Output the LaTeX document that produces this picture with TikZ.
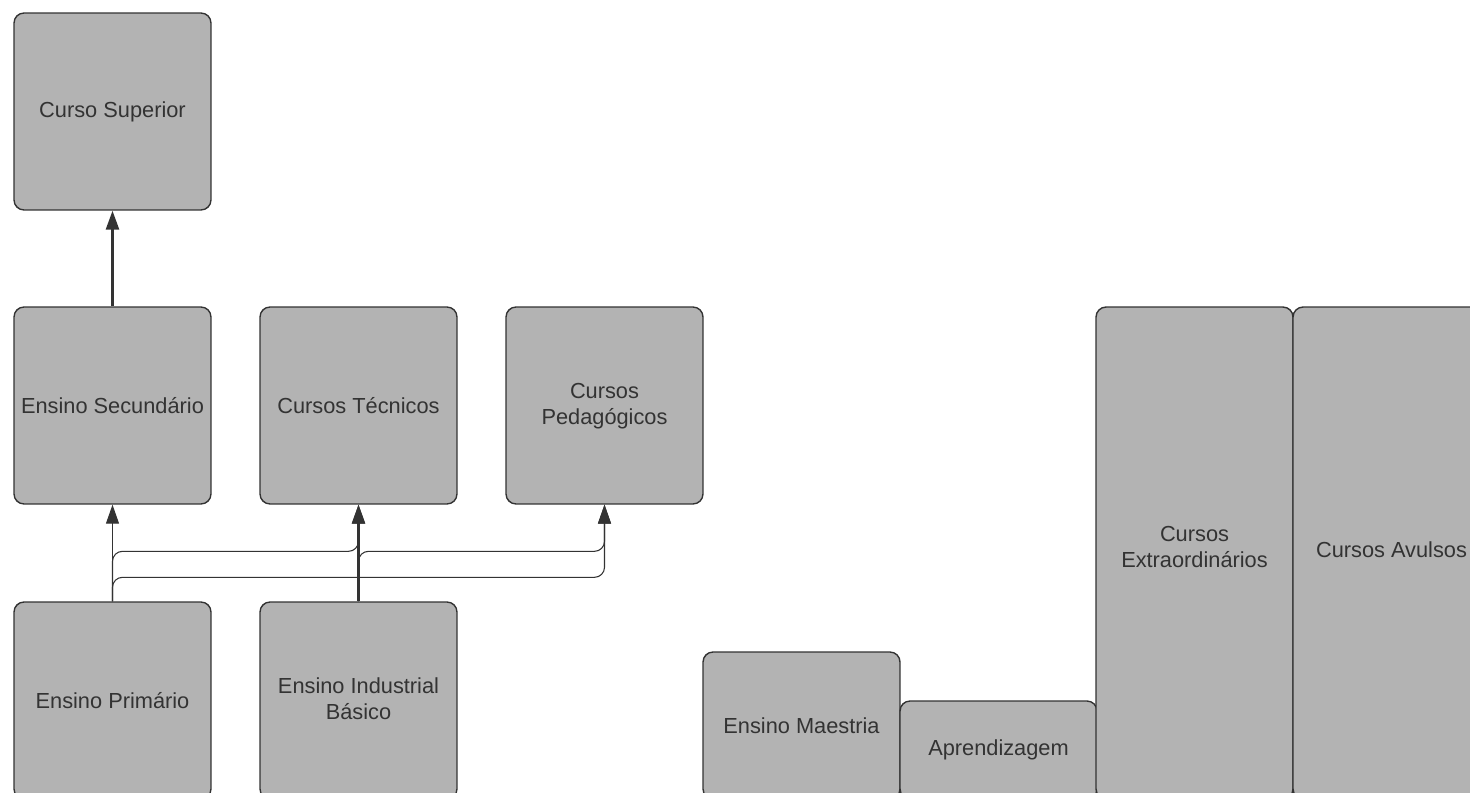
\documentclass[tikz,border=0pt]{standalone}
\usepackage{fontspec}
\setmainfont{Liberation Sans}
\usetikzlibrary{arrows.meta}
\definecolor{boxgray}{RGB}{179,179,179}
\definecolor{edgegray}{RGB}{51,51,51}
\tikzset{
 box/.style={draw=edgegray, line width=0.8pt, fill=boxgray, rounded corners=0.2cm, minimum width=3.94cm, minimum height=3.94cm, inner sep=0, text=edgegray, align=center, font=\fontsize{12.4}{14.8}\selectfont},
 link/.style={draw=edgegray, line width=0.6pt, rounded corners=0.2cm, -{Triangle[width=0.26cm,length=0.38cm]}},
 thicklink/.style={link, line width=1.5pt},
}
\begin{document}
\begin{tikzpicture}[x=0.02cm, y=-0.02cm]
\useasboundingbox (0,0) rectangle (1470,793);
\clip (0,0) rectangle (1470,793);
% upper rows
\node[box] (sup) at (112.5,111.5) {Curso Superior};
\node[box] (sec) at (112.5,405.5) {Ensino Secundário};
\node[box] (tec) at (358.5,405.5) {Cursos Técnicos};
\node[box, text depth=0.06cm] (ped) at (604.5,405.5) {Cursos\\Pedagógicos};
% bottom row, cut by the page edge
\node[box] (pri) at (112.5,700.5) {Ensino Primário};
\node[box, text depth=0.06cm] (ind) at (358.5,700.5) {Ensino Industrial\\Básico};
\node[box, minimum height=2.94cm] (mae) at (801.5,725.5) {Ensino Maestria};
\node[box, minimum height=1.96cm] (apr) at (998.5,750) {Aprendizagem};
\node[box, minimum height=9.84cm, text depth=0.26cm] (ext) at (1194.5,553) {Cursos\\Extraordinários};
\node[box, minimum height=9.84cm, text depth=0.12cm] (avu) at (1391.5,553) {Cursos Avulsos};
% connectors
\draw[thicklink] (sec.north) -- (sup.south);
\draw[link] (pri.north) -- (sec.south);
\draw[link] (pri.north) -- ++(0,-50) -| (tec.south);
\draw[link] (pri.north) -- ++(0,-24) -| (ped.south);
\draw[link] (ind.north) -- ++(0,-50) -| (ped.south);
\draw[thicklink] (ind.north) -- (tec.south);
\end{tikzpicture}
\end{document}
